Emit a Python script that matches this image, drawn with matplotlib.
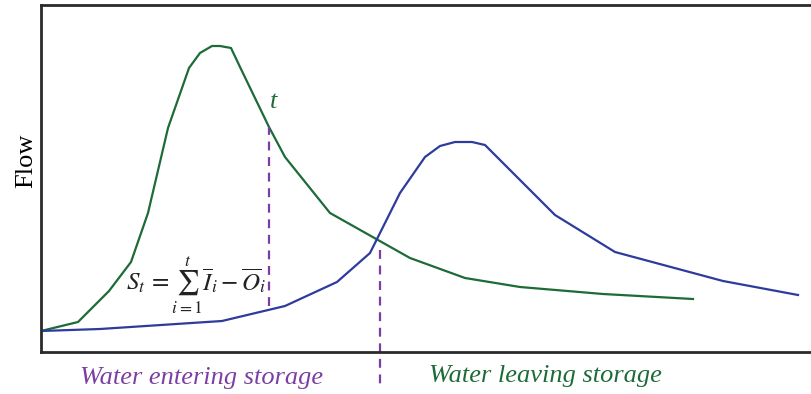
import matplotlib.pyplot as plt

# inflow hydrograph (green) - time / flow
t_in = [41, 78, 109, 131, 148, 168, 189, 200, 212, 220, 231, 240, 269, 285, 330, 410, 465, 520, 603, 693]
q_in = [21, 30, 61, 90, 139, 224, 284, 299, 306, 306, 304, 285, 225, 195, 139, 94, 74, 65, 58, 53]

# outflow hydrograph (blue)
t_out = [41, 100, 222, 285, 337, 370, 400, 425, 440, 455, 472, 485, 497, 530, 555, 615, 723, 798]
q_out = [21, 23, 31, 46, 70, 99, 159, 195, 206, 210, 210, 207, 195, 162, 137, 100, 71, 57]

t_now = 269
t_cross = 380

green = '#1d6b36'
blue = '#2d3c9c'
purple = '#7b3fa3'

plt.rcParams['mathtext.fontset'] = 'stix'
serif = ['Liberation Serif', 'DejaVu Serif']

fig = plt.figure(figsize=(8.11, 3.94), dpi=100)
ax = fig.add_axes([41/811, 1-352/394, 1-41/811, 347/394])

ax.plot(t_in, q_in, color=green, lw=1.6)
ax.plot(t_out, q_out, color=blue, lw=1.6)

# dashed marker at time t: from outflow up to inflow
ax.plot([t_now, t_now], [46, 225], color=purple, lw=1.6, ls=(0, (4, 3)))
# dashed divider below the crossing point
ax.plot([t_cross, t_cross], [102, -34], color=purple, lw=1.6, ls=(0, (4, 3)), clip_on=False)

ax.text(274, 250, 't', color=green, fontsize=19, style='italic', family=serif, ha='center', va='center')
ax.text(196, 66, r'$S_t\,=\sum_{i=1}^{t}\overline{I}_i - \overline{O}_i$', color='#222222',
        fontsize=18, ha='center', va='center')

ax.text(202, -26, 'Water entering storage', color=purple, fontsize=19, style='italic',
        family=serif, ha='center', va='center', clip_on=False)
ax.text(545, -24, 'Water leaving storage', color=green, fontsize=19, style='italic',
        family=serif, ha='center', va='center', clip_on=False)

ax.set_ylabel('Flow', family=serif, fontsize=19)
ax.yaxis.set_label_coords(-0.005, 0.55)

ax.set_xlim(41, 811)
ax.set_ylim(0, 347)
ax.set_xticks([])
ax.set_yticks([])
for s in ['left', 'top', 'bottom']:
    ax.spines[s].set_linewidth(2)
    ax.spines[s].set_color('#2a2a2a')
ax.spines['right'].set_visible(False)

fig.savefig('out.png', dpi=100)
